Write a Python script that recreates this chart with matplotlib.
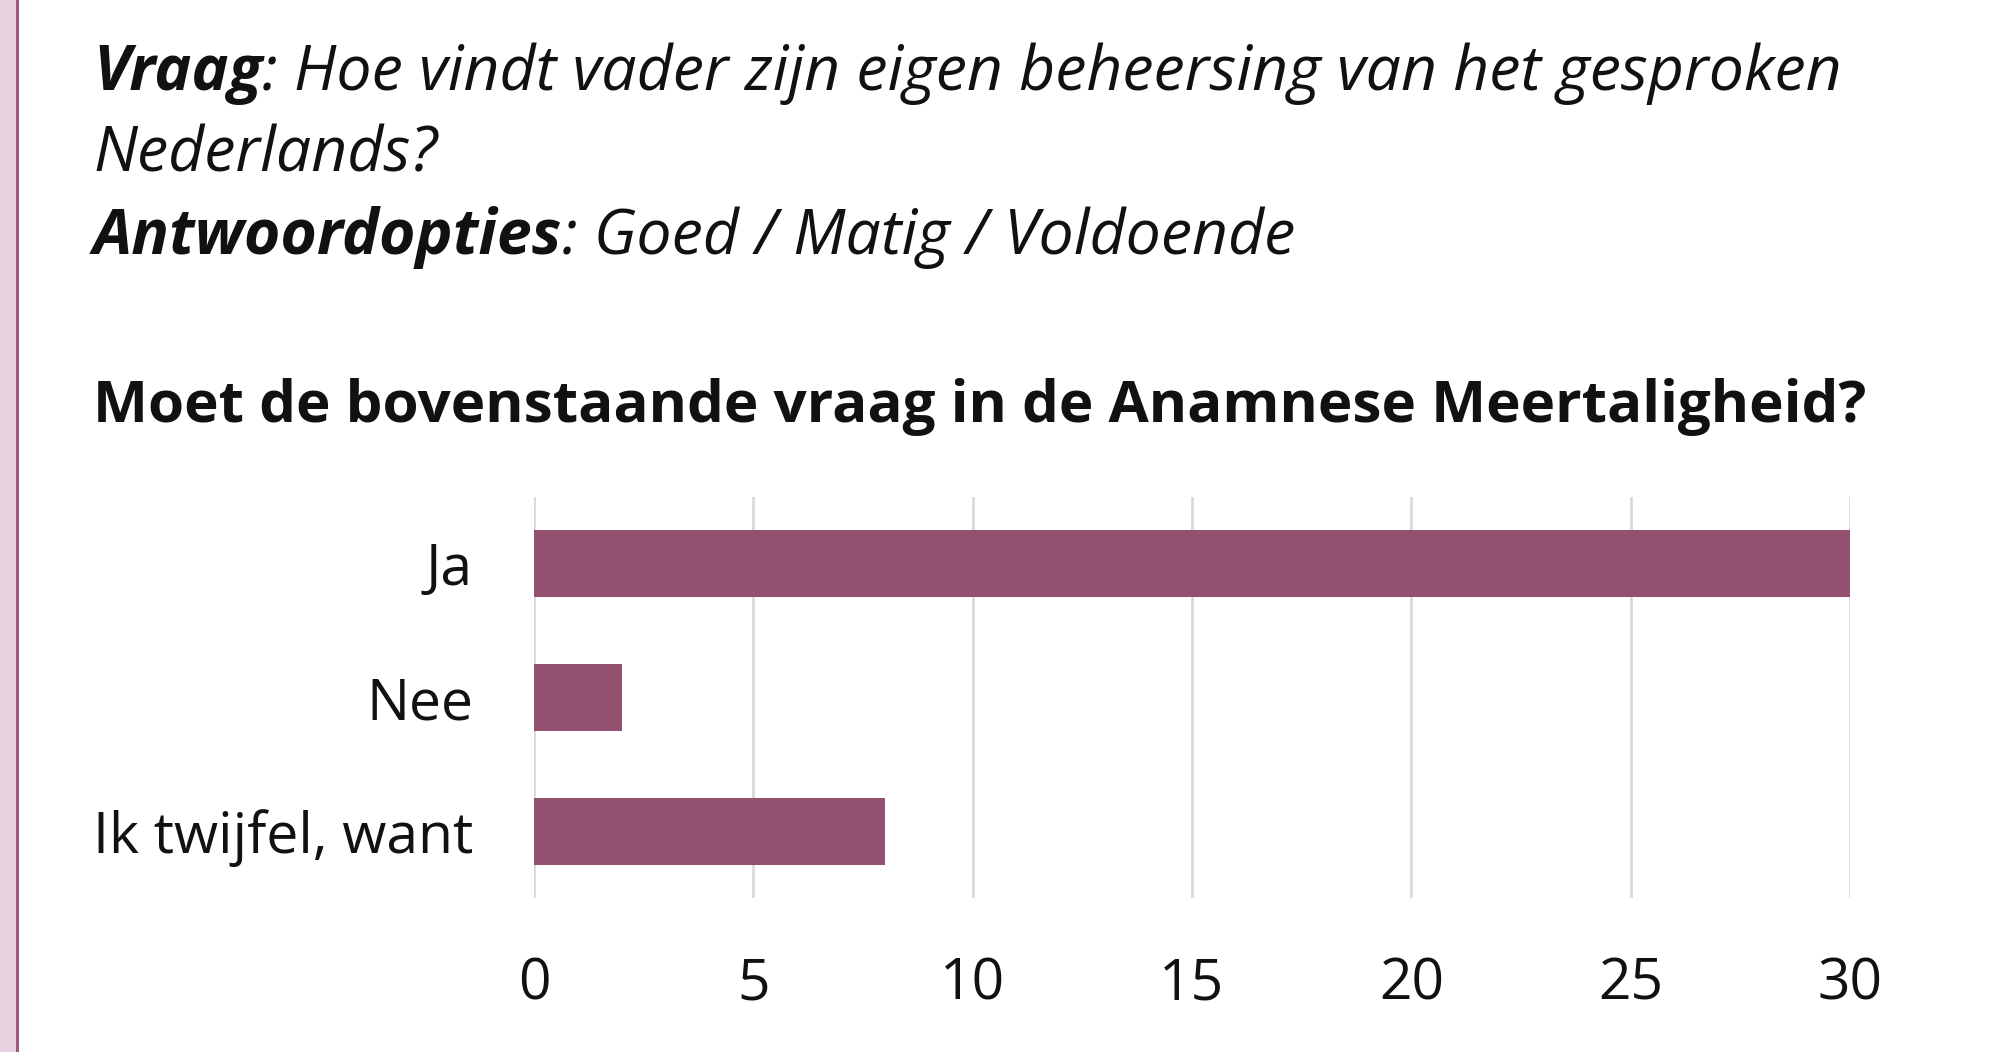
import matplotlib
matplotlib.use("Agg")
import matplotlib.pyplot as plt
from matplotlib.patches import Rectangle

categories = ["Ja", "Nee", "Ik twijfel, want"]
values = [30, 2, 8]
xticks = [0, 5, 10, 15, 20, 25, 30]

FONT = "Open Sans"
BAR = "#94506F"
W, H = 1990, 1052

fig = plt.figure(figsize=(W / 100, H / 100), dpi=100)
fig.patch.set_facecolor("white")

# left decoration strip
fig.add_artist(Rectangle((0, 0), 16 / W, 1, transform=fig.transFigure, facecolor="#E6D3DF", edgecolor="none"))
fig.add_artist(Rectangle((16 / W, 0), 3 / W, 1, transform=fig.transFigure, facecolor="#9B5A80", edgecolor="none"))

fs_q = 45
renderer = fig.canvas.get_renderer()


def run(parts, x, y):
    for txt, weight in parts:
        t = fig.text(x, y, txt, fontsize=fs_q, family=FONT, style="italic", weight=weight,
                     va="baseline", ha="left", color="#111111")
        bb = t.get_window_extent(renderer=renderer)
        x = x + bb.width / W


x0 = 93 / W
run([("Vraag", "bold"), (": Hoe vindt vader zijn eigen beheersing van het gesproken", "normal")], x0, 1 - 90 / H)
run([("Nederlands?", "normal")], x0, 1 - 171 / H)
run([("Antwoordopties", "bold"), (": Goed / Matig / Voldoende", "normal")], x0, 1 - 254 / H)

fig.text(x0, 1 - 422 / H, "Moet de bovenstaande vraag in de Anamnese Meertaligheid?", fontsize=42,
         family=FONT, weight="bold", va="baseline", ha="left", color="#111111")

ax = fig.add_axes([534 / W, 1 - 898 / H, (1850 - 534) / W, (898 - 497) / H])
y = list(range(len(categories)))
ax.barh(y, values, height=0.5, color=BAR, zorder=3)
ax.set_ylim(len(categories) - 0.5, -0.5)
ax.set_xlim(0, 30)
ax.set_xticks(xticks)
ax.set_yticks(y)
ax.set_yticklabels(categories)
for s in ax.spines.values():
    s.set_visible(False)
ax.grid(axis="x", color="#D9D9D9", linewidth=2, zorder=0)
ax.tick_params(length=0, labelsize=41, colors="#111111", pad=44)
ax.tick_params(axis="x", pad=42)
for lab in ax.get_xticklabels() + ax.get_yticklabels():
    lab.set_family(FONT)

fig.savefig("out.png", dpi=100)
